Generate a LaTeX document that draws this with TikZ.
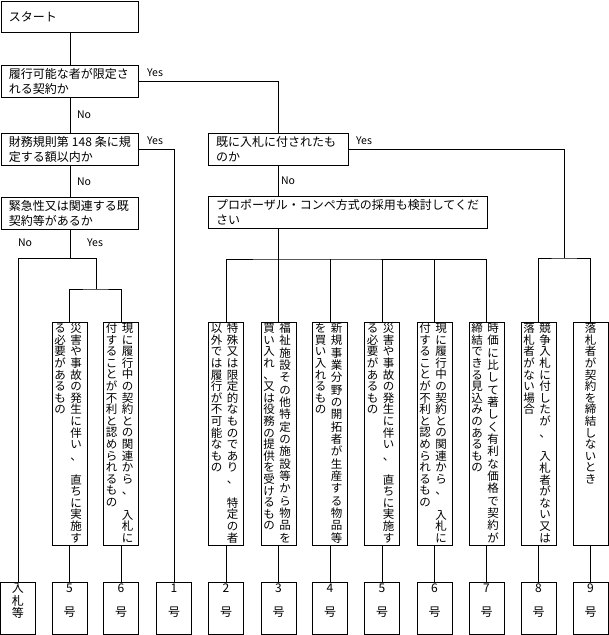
\documentclass[tikz,border=0pt]{standalone}
\usepackage{fontspec}
\setmainfont{Noto Sans CJK JP}
\makeatletter
\def\vgapmark{|}
\newcommand\vchars[1]{\@tfor\vc:=#1\do{\ifx\vc\vgapmark\vskip 0pt plus 1fill\relax\else\hbox to 12pt{\hss\vc\hss}\fi}}
\makeatother
\newcommand\vnat[1]{\vtop{\baselineskip=11.6pt\lineskiplimit=-100pt\lineskip=0pt\vchars{#1}}}
\newcommand\vjus[1]{\vtop to 219pt{\baselineskip=11.6pt plus 1fil\lineskiplimit=-100pt\lineskip=0pt\vchars{#1}}}
\newcommand\vtwo[2]{\vbox to 222pt{\hbox{\vnat{#2}\hskip4pt\vjus{#1}\hskip3pt}\vss}}
\newcommand\vone[1]{\vbox to 222pt{\hbox{\vnat{#1}}\vss}}
\newcommand\rtxt[2]{\vbox to 50pt{\baselineskip=24.5pt\lineskiplimit=-100pt\lineskip=0pt\hbox to 33pt{\hss#1\hss}\hbox to 33pt{\hss#2\hss}\vss}}
\newcommand\rvert[1]{\vbox to 50pt{\baselineskip=12.4pt\lineskiplimit=-100pt\lineskip=0pt\vchars{#1}\vss}}
\tikzset{
  qbox/.style={draw, line width=1pt, anchor=north west, inner xsep=7.5pt, inner ysep=0pt,
    minimum height=32pt, align=left, font=\fontsize{12}{15}\selectfont},
  tallbox/.style={draw, line width=1pt, minimum width=35pt, minimum height=223pt, inner sep=0pt,
    anchor=north, font=\fontsize{11.5}{11.6}\selectfont},
  resbox/.style={draw, line width=1pt, minimum width=35pt, minimum height=52pt, inner sep=0pt,
    anchor=north, font=\fontsize{12}{14}\selectfont},
  lab/.style={font=\fontsize{10.5}{12}\selectfont, inner sep=0pt},
  wire/.style={line width=1pt}
}
\begin{document}
\begin{tikzpicture}[x=1pt,y=-1pt]
\useasboundingbox (0,0) rectangle (609,635);
% question boxes
\node[qbox, text width=122pt, minimum height=31pt] (start) at (1,1) {スタート};
\node[qbox, text width=122pt] (q1) at (1,65) {履行可能な者が限定さ\\れる契約か};
\node[qbox, text width=122pt] (q2) at (1,133) {\mbox{財務規則第\kern3pt 148\kern3pt 条に規}\\定する額以内か};
\node[qbox, text width=122pt] (q3) at (1,197) {緊急性又は関連する既\\契約等があるか};
\node[qbox, text width=125pt] (q4) at (208,133) {既に入札に付されたも\\のか};
\node[qbox, text width=264pt] (q5) at (208,196) {プロポーザル・コンペ方式の採用も検討してくだ\\さい};
% tall boxes
\node[tallbox] (b5a) at (69.5,322) {\vtwo{災害や事故の発生に伴い、|直ちに実施す}{る必要があるもの}};
\node[tallbox] (b6a) at (121,322) {\vtwo{現に履行中の契約との関連から、|入札に}{付することが不利と認められるもの}};
\node[tallbox] (b2) at (226,322) {\vtwo{特殊又は限定的なものであり、|特定の者}{以外では履行が不可能なもの}};
\node[tallbox] (b3) at (278.5,322) {\vtwo{福祉施設その他特定の施設等から物品を}{買い入れ、又は役務の提供を受けるもの}};
\node[tallbox] (b4) at (330,322) {\vtwo{新規事業分野の開拓者が生産する物品等}{を買い入れるもの}};
\node[tallbox] (b5) at (382,322) {\vtwo{災害や事故の発生に伴い、|直ちに実施す}{る必要があるもの}};
\node[tallbox] (b6) at (434.5,322) {\vtwo{現に履行中の契約との関連から、|入札に}{付することが不利と認められるもの}};
\node[tallbox] (b7) at (486.5,322) {\vtwo{時価に比して著しく有利な価格で契約が}{締結できる見込みのあるもの}};
\node[tallbox] (b8) at (538.5,322) {\vtwo{競争入札に付したが、|入札者がない又は}{落札者がない場合}};
\node[tallbox] (b9) at (590.5,322) {\vone{落札者が契約を締結しないとき}};
% result boxes
\node[resbox] (r0) at (18,582) {\rvert{入札等}};
\node[resbox] (r5a) at (69.5,582) {\rtxt{5}{号}};
\node[resbox] (r6a) at (121,582) {\rtxt{6}{号}};
\node[resbox] (r1) at (174,582) {\rtxt{1}{号}};
\node[resbox] (r2) at (226,582) {\rtxt{2}{号}};
\node[resbox] (r3) at (278.5,582) {\rtxt{3}{号}};
\node[resbox] (r4) at (330,582) {\rtxt{4}{号}};
\node[resbox] (r5) at (382,582) {\rtxt{5}{号}};
\node[resbox] (r6) at (434.5,582) {\rtxt{6}{号}};
\node[resbox] (r7) at (486.5,582) {\rtxt{7}{号}};
\node[resbox] (r8) at (538.5,582) {\rtxt{8}{号}};
\node[resbox] (r9) at (590.5,582) {\rtxt{9}{号}};
% junctions
\coordinate (j2) at (96,258);
\coordinate (j3) at (96,289);
\coordinate (j5) at (564,258);
% connectors
\draw[wire] (start.south) -- (q1.north);
\draw[wire] (q1.south) -- (q2.north);
\draw[wire] (q2.south) -- (q3.north);
\draw[wire] (q1.east) -| (q4.north);
\draw[wire] (q2.east) -| (r1.north);
\draw[wire] (q3.south) -- (q3.south |- j2);
\draw[wire] (r0.north) |- (j2) -- (j3);
\draw[wire] (b5a.north) |- (j3) -| (b6a.north);
\draw[wire] (q4.south) -- (q4.south |- q5.north);
\draw[wire] (q5.south -| q4.south) -- ++(0,30) coordinate (j4);
\draw[wire] (b2.north) |- (j4) -| (b7.north);
\foreach \b in {b3,b4,b5,b6} \draw[wire] (\b.north) -- (\b.north |- j4);
\draw[wire] (q4.east) -| (j5);
\draw[wire] (b8.north) |- (j5) -| (b9.north);
\foreach \b in {5a,6a,2,3,4,5,6,7,8,9} \draw[wire] (b\b.south) -- (r\b.north);
% labels
\node[lab] (y1) at (155,73) {Yes};
\node[lab] (n1) at (84,115) {No};
\node[lab] (y2) at (155,141) {Yes};
\node[lab] (n2) at (84,182) {No};
\node[lab] (n3) at (25,243) {No};
\node[lab] (y3) at (95,243) {Yes};
\node[lab] (n4) at (288,181) {No};
\node[lab] (y4) at (364,141) {Yes};
\end{tikzpicture}
\end{document}
